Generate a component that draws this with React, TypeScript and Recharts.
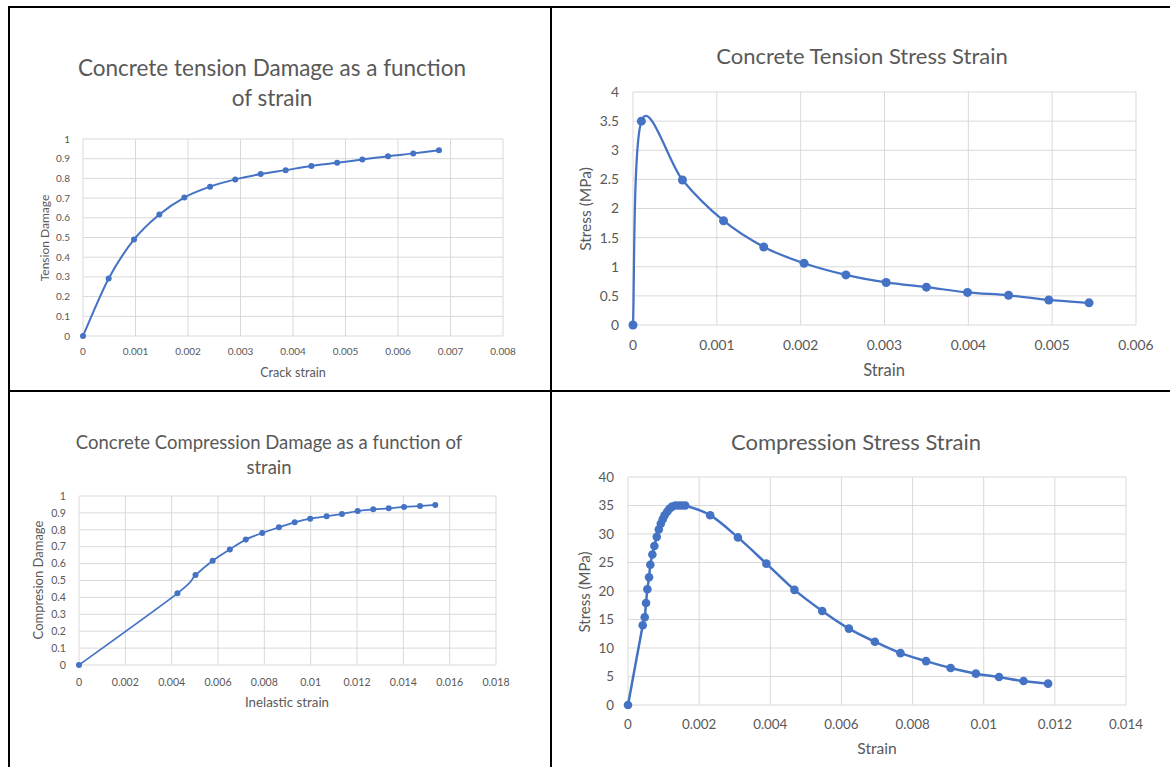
import React from 'react';
import { LineChart, Line, XAxis, YAxis, CartesianGrid } from 'recharts';

// tension damage vs crack strain
const crackStrain = [0, 0.000489, 0.000972, 0.001454, 0.00193, 0.00242, 0.0029, 0.003385, 0.00386, 0.00435, 0.00484, 0.00532, 0.00581, 0.00629, 0.00678];
const tensionDamage = [0, 0.292, 0.49, 0.617, 0.703, 0.758, 0.795, 0.822, 0.842, 0.863, 0.879, 0.896, 0.913, 0.927, 0.943];

// tension stress-strain
const tensionStrain = [0, 0.0001, 0.00059, 0.00108, 0.00156, 0.00204, 0.00254, 0.00302, 0.0035, 0.00399, 0.00448, 0.00496, 0.00544];
const tensionStress = [0, 3.5, 2.49, 1.79, 1.34, 1.06, 0.86, 0.73, 0.65, 0.56, 0.51, 0.43, 0.38];

// compression damage vs inelastic strain
const inelasticStrain = [0, 0.00425, 0.00503, 0.00577, 0.00651, 0.0072, 0.00791, 0.00863, 0.00931, 0.00998, 0.01069, 0.01135, 0.01203, 0.0127, 0.01337, 0.01403, 0.01472, 0.01538];
const compressionDamage = [0, 0.424, 0.532, 0.617, 0.684, 0.742, 0.781, 0.815, 0.844, 0.866, 0.88, 0.894, 0.911, 0.921, 0.927, 0.935, 0.941, 0.947];

// compression stress-strain
const compStrain = [0, 0.000414, 0.00047, 0.000507, 0.000544, 0.000592, 0.000628, 0.000685, 0.000741, 0.000808, 0.000865, 0.000921, 0.000977, 0.00103, 0.0011, 0.00116, 0.00124, 0.00133, 0.00143, 0.00152, 0.00161, 0.00231, 0.00309, 0.00389, 0.00468, 0.00546, 0.00621, 0.00694, 0.00766, 0.00838, 0.00907, 0.00978, 0.01043, 0.01112, 0.01181];
const compStress = [0, 14.0, 15.4, 17.9, 20.3, 22.4, 24.6, 26.4, 27.9, 29.5, 30.8, 31.8, 32.6, 33.3, 33.9, 34.4, 34.8, 35, 35, 35, 35, 33.3, 29.4, 24.8, 20.2, 16.5, 13.4, 11.1, 9.1, 7.7, 6.5, 5.5, 4.9, 4.2, 3.75];

const ticksX1 = [0, 0.001, 0.002, 0.003, 0.004, 0.005, 0.006, 0.007, 0.008];
const ticksY1 = [0, 0.1, 0.2, 0.3, 0.4, 0.5, 0.6, 0.7, 0.8, 0.9, 1];
const ticksX2 = [0, 0.001, 0.002, 0.003, 0.004, 0.005, 0.006];
const ticksY2 = [0, 0.5, 1, 1.5, 2, 2.5, 3, 3.5, 4];
const ticksX3 = [0, 0.002, 0.004, 0.006, 0.008, 0.01, 0.012, 0.014, 0.016, 0.018];
const ticksX4 = [0, 0.002, 0.004, 0.006, 0.008, 0.01, 0.012, 0.014];
const ticksY4 = [0, 5, 10, 15, 20, 25, 30, 35, 40];

const BLUE = '#4472c4';
const TEXT = '#595959';
const GRID = '#d9d9d9';

const toRows = (xs: number[], ys: number[]) => xs.map((x, i) => ({ x, y: ys[i] }));

// excel style smoothed line (catmull-rom through every point)
function excelSmooth(context: any) {
  let pts: number[][] = [];
  return {
    areaStart() {},
    areaEnd() {},
    lineStart() {
      pts = [];
    },
    point(x: number, y: number) {
      pts.push([+x, +y]);
    },
    lineEnd() {
      if (!pts.length) return;
      context.moveTo(pts[0][0], pts[0][1]);
      for (let i = 0; i < pts.length - 1; i++) {
        const p0 = pts[Math.max(i - 1, 0)];
        const p1 = pts[i];
        const p2 = pts[i + 1];
        const p3 = pts[Math.min(i + 2, pts.length - 1)];
        context.bezierCurveTo(
          p1[0] + (p2[0] - p0[0]) / 6,
          p1[1] + (p2[1] - p0[1]) / 6,
          p2[0] - (p3[0] - p1[0]) / 6,
          p2[1] - (p3[1] - p1[1]) / 6,
          p2[0],
          p2[1]
        );
      }
    },
  };
}

interface PanelProps {
  rows: { x: number; y: number }[];
  plot: { left: number; top: number; right: number; bottom: number };
  xTicks: number[];
  yTicks: number[];
  tickSize: number;
  xGap: number;
  yGap: number;
  lineWidth: number;
  dotR: number;
}

function Panel({ rows, plot, xTicks, yTicks, tickSize, xGap, yGap, lineWidth, dotR }: PanelProps) {
  const yw = 50;
  const left = plot.left - yw;
  const top = plot.top - 10;
  const width = plot.right - left + 30;
  const height = plot.bottom - top + 40;
  return (
    <div style={{ position: 'absolute', left, top }}>
      <LineChart width={width} height={height} data={rows} margin={{ top: 10, right: 30, bottom: 0, left: 0 }}>
        <CartesianGrid stroke={GRID} strokeWidth={1} />
        <XAxis
          dataKey="x"
          type="number"
          domain={[xTicks[0], xTicks[xTicks.length - 1]]}
          ticks={xTicks}
          interval={0}
          height={40}
          axisLine={false}
          tickLine={false}
          tickSize={0}
          tickMargin={xGap}
          tick={{ fontSize: tickSize, fill: TEXT }}
          tickFormatter={(v) => String(v)}
        />
        <YAxis
          type="number"
          domain={[yTicks[0], yTicks[yTicks.length - 1]]}
          ticks={yTicks}
          interval={0}
          width={yw}
          axisLine={false}
          tickLine={false}
          tickSize={0}
          tickMargin={yGap}
          tick={{ fontSize: tickSize, fill: TEXT }}
          tickFormatter={(v) => String(v)}
        />
        <Line
          dataKey="y"
          type={excelSmooth as any}
          stroke={BLUE}
          strokeWidth={lineWidth}
          dot={{ r: dotR, fill: BLUE, stroke: BLUE, strokeWidth: 0 }}
          activeDot={false}
          isAnimationActive={false}
        />
      </LineChart>
    </div>
  );
}

function Txt({ x, y, size, children, rotate }: { x: number; y: number; size: number; children: React.ReactNode; rotate?: boolean }) {
  return (
    <div
      style={{
        position: 'absolute',
        left: x,
        top: y,
        fontSize: size,
        color: TEXT,
        whiteSpace: 'nowrap',
        lineHeight: 1,
        transform: rotate ? 'translate(-50%, -50%) rotate(-90deg)' : 'translate(-50%, -50%)',
      }}
    >
      {children}
    </div>
  );
}

const rule = (left: number, top: number, width: number, height: number) => (
  <div style={{ position: 'absolute', left, top, width, height, background: '#000' }} />
);

export default function App() {
  return (
    <div
      style={{
        position: 'absolute',
        left: 0,
        top: 0,
        width: 1170,
        height: 767,
        overflow: 'hidden',
        background: '#fff',
        fontFamily: 'Lato, sans-serif',
      }}
    >
      {/* top left: tension damage */}
      <Txt x={272} y={68} size={22.5}>Concrete tension Damage as a function</Txt>
      <Txt x={272} y={98} size={22.5}>of strain</Txt>
      <Panel
        rows={toRows(crackStrain, tensionDamage)}
        plot={{ left: 83, top: 139, right: 503, bottom: 336 }}
        xTicks={ticksX1}
        yTicks={ticksY1}
        tickSize={10}
        xGap={12}
        yGap={13}
        lineWidth={2}
        dotR={3}
      />
      <Txt x={293} y={373} size={12.6}>Crack strain</Txt>
      <Txt x={45} y={238} size={12} rotate>Tension Damage</Txt>

      {/* top right: tension stress strain */}
      <Txt x={862} y={56} size={22}>Concrete Tension Stress Strain</Txt>
      <Panel
        rows={toRows(tensionStrain, tensionStress)}
        plot={{ left: 633, top: 92, right: 1136, bottom: 325 }}
        xTicks={ticksX2}
        yTicks={ticksY2}
        tickSize={13.8}
        xGap={15}
        yGap={14}
        lineWidth={2.25}
        dotR={4.5}
      />
      <Txt x={884} y={370} size={16.5}>Strain</Txt>
      <Txt x={586} y={209} size={15.5} rotate>Stress (MPa)</Txt>

      {/* bottom left: compression damage */}
      <Txt x={269} y={442} size={18.5}>Concrete Compression Damage as a function of</Txt>
      <Txt x={269} y={467} size={18.5}>strain</Txt>
      <Panel
        rows={toRows(inelasticStrain, compressionDamage)}
        plot={{ left: 79, top: 496, right: 496, bottom: 665 }}
        xTicks={ticksX3}
        yTicks={ticksY1}
        tickSize={10.6}
        xGap={13}
        yGap={13}
        lineWidth={1.75}
        dotR={3}
      />
      <Txt x={287} y={703} size={13.3}>Inelastic strain</Txt>
      <Txt x={38} y={580} size={13} rotate>Compresion Damage</Txt>

      {/* bottom right: compression stress strain */}
      <Txt x={856} y={442} size={22}>Compression Stress Strain</Txt>
      <Panel
        rows={toRows(compStrain, compStress)}
        plot={{ left: 628, top: 477, right: 1126, bottom: 705 }}
        xTicks={ticksX4}
        yTicks={ticksY4}
        tickSize={13.4}
        xGap={14}
        yGap={14}
        lineWidth={2.5}
        dotR={4.3}
      />
      <Txt x={877} y={749} size={15.6}>Strain</Txt>
      <Txt x={584} y={592} size={15} rotate>Stress (MPa)</Txt>

      {/* table rules */}
      {rule(8, 6, 1162, 2)}
      {rule(8, 6, 2, 761)}
      {rule(550, 6, 2, 761)}
      {rule(8, 390, 1162, 2)}
    </div>
  );
}
